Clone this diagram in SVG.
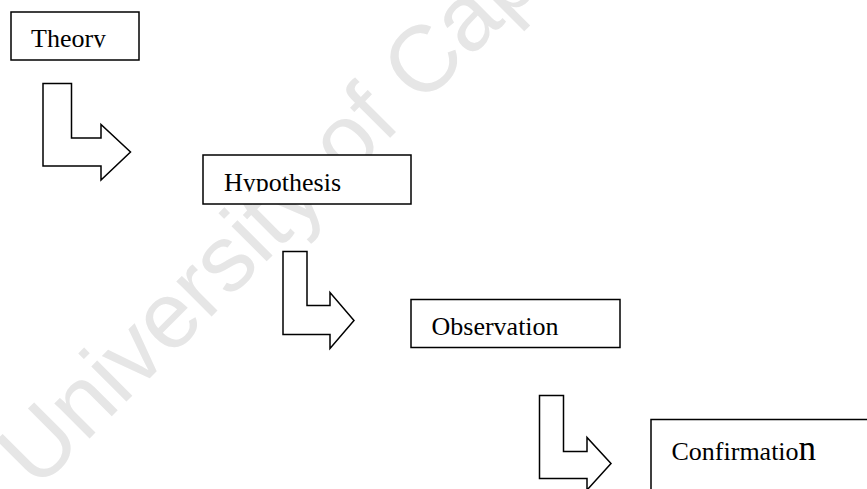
<svg xmlns="http://www.w3.org/2000/svg" width="867" height="489" viewBox="0 0 867 489">
  <style>
    .box { fill: #ffffff; stroke: #000000; stroke-width: 1.5; }
    .label { font-family: 'Liberation Serif', 'DejaVu Serif', serif; font-size: 26px; fill: #000000; }
    .bend { fill: #ffffff; stroke: #000000; stroke-width: 1.5; stroke-linejoin: miter; }
    .mark { font-family: 'Liberation Sans', Arial, sans-serif; font-size: 94px; fill: #e6e6e6; }
  </style>
  <defs>
    <clipPath id="clip-theory"><rect x="11" y="12" width="128" height="35.5"/></clipPath>
    <clipPath id="clip-hypothesis"><rect x="203" y="155" width="208" height="36.5"/></clipPath>
  </defs>

  <rect width="867" height="489" fill="#ffffff"/>

  <!-- background watermark -->
  <text class="mark" transform="translate(37 491) rotate(-45)">University of Cape Town</text>

  <!-- bent block arrows between the steps -->
  <g id="connectors">
    <polygon class="bend" points="43,83.5 71.5,83.5 71.5,138 101,138 101,124.5 130.5,152 101,180 101,166 43,166"/>
    <polygon class="bend" points="283,251.5 307,251.5 307,305.5 330,305.5 330,292.5 354,320.5 330,348.5 330,334.5 283,334.5"/>
    <polygon class="bend" points="539.5,395.5 563.5,395.5 563.5,451.5 587,451.5 587,437.5 611,463.5 587,490 587,478.5 539.5,478.5"/>
  </g>

  <g id="theory">
    <rect class="box" x="11" y="12" width="128" height="48"/>
    <text class="label" font-family="Liberation Serif, DejaVu Serif, serif" x="31" y="46.5" clip-path="url(#clip-theory)">Theory</text>
  </g>

  <g id="hypothesis">
    <rect class="box" x="203" y="155" width="208" height="49"/>
    <text class="label" font-family="Liberation Serif, DejaVu Serif, serif" x="224" y="191" clip-path="url(#clip-hypothesis)">Hypothesis</text>
  </g>

  <g id="observation">
    <rect class="box" x="411" y="299.5" width="209" height="48"/>
    <text class="label" font-family="Liberation Serif, DejaVu Serif, serif" x="431.5" y="335">Observation</text>
  </g>

  <g id="confirmation">
    <rect class="box" x="651" y="419.5" width="300" height="120"/>
    <text class="label" font-family="Liberation Serif, DejaVu Serif, serif" x="671.5" y="460">Confirmatio<tspan font-size="35">n</tspan></text>
  </g>
</svg>
